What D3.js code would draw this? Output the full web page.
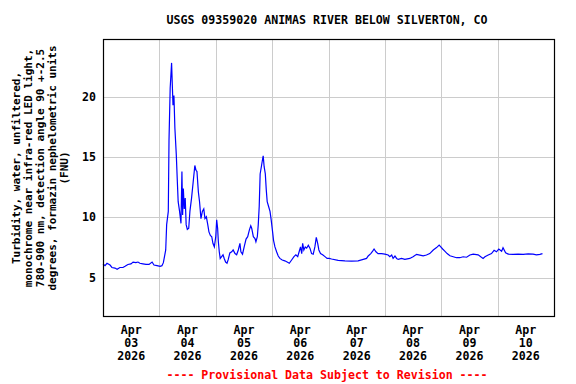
<!DOCTYPE html>
<html>
  <head>
    <meta charset="utf-8">
    <title>USGS 09359020 turbidity</title>
    <script src="https://cdn.jsdelivr.net/npm/d3@7"></script>
    <style>
      body { margin: 0; background: #fff; }
      text { font-family: "DejaVu Sans Mono", monospace; font-weight: bold; }
    </style>
  </head>
  <body>
    <script>

// hours after Apr 03 2026 00:00 and turbidity (FNU)
var hours = [0, 0.85, 1.7, 3.0, 3.8, 5.1, 6.0, 7.2, 8.5, 9.4, 10.6, 11.9, 12.8, 14.0, 14.9, 15.7,
  17.0, 18.3, 19.6, 20.9, 21.7, 23.0, 24.3, 25.1, 25.7, 26.7, 27.1, 27.8, 28.1, 28.6, 29.2, 29.5,
  29.8, 30.2, 30.6, 31.2, 31.6, 32.0, 32.6, 33.2, 33.6, 33.9, 34.2, 34.6, 35.0, 35.4, 35.9, 36.5,
  37.0, 37.7, 38.4, 39.1, 39.6, 40.0, 40.6, 41.1, 41.7, 42.3, 42.9, 43.4, 44.0, 44.6, 45.1, 45.7,
  46.3, 46.8, 47.4, 48.0, 48.4, 48.8, 49.1, 49.5, 49.9, 50.5, 51.1, 51.6, 52.2, 52.8, 53.3, 54.0,
  54.8, 55.4, 56.2, 56.9, 57.6, 58.3, 58.7, 59.4, 60.1, 60.9, 61.6, 62.3, 62.9, 63.3, 64.0, 64.7,
  65.1, 65.7, 66.1, 66.5, 66.9, 67.5, 68.0, 68.2, 68.6, 69.1, 69.5, 69.9, 70.5, 71.1, 71.6, 72.2,
  72.6, 73.2, 73.9, 74.6, 75.3, 76.3, 77.4, 78.4, 79.3, 80.3, 81.3, 82.1, 82.9, 83.5, 84.1, 84.6,
  85.0, 85.5, 86.1, 86.7, 87.4, 88.1, 88.8, 89.5, 90.2, 90.8, 91.4, 91.9, 92.6, 93.5, 94.5, 95.4,
  96.3, 97.3, 100.1, 103.0, 105.8, 108.6, 110.8, 112.2, 112.9, 114.0, 114.8, 115.4, 116.2, 117.1,
  118.6, 120.0, 121.4, 122.1, 122.9, 123.5, 124.3, 125.0, 125.7, 127.1, 128.5, 130.6, 132.0, 133.5,
  134.9, 136.3, 137.7, 139.1, 140.6, 142.0, 143.1, 143.7, 144.6, 145.5, 146.5, 147.7, 149.1, 150.5,
  151.9, 153.3, 154.8, 156.2, 157.6, 159.7, 161.1, 161.8, 162.6, 164.0, 165.4, 166.5, 167.5, 168.5,
  169.7, 170.3, 171.4, 172.5, 174.6, 176.7, 178.9, 181.0, 183.1, 184.5, 186.0, 187.1];

var fnu = [6.15, 6.0, 6.2, 6.05, 5.85, 5.8, 5.7, 5.85, 5.85, 5.95, 6.1, 6.15, 6.3, 6.25, 6.3, 6.2,
  6.15, 6.1, 6.1, 6.3, 6.05, 6.0, 5.95, 6.0, 6.25, 7.3, 9.4, 10.5, 16.4, 20.7, 22.8, 21.0,
  19.3, 20.1, 17.4, 15.2, 13.2, 11.3, 10.5, 9.5, 13.8, 10.2, 12.4, 10.7, 11.6, 9.4, 9.0, 9.1,
  10.5, 11.6, 12.95, 14.3, 13.9, 13.8, 12.1, 11.3, 9.9, 10.5, 10.7, 9.9, 10.05, 9.4, 8.8, 8.5,
  8.4, 7.85, 7.55, 8.4, 9.8, 9.1, 8.0, 7.15, 6.6, 6.75, 6.9, 6.6, 6.3, 6.2, 6.5, 7.05,
  7.15, 7.3, 7.0, 6.9, 7.3, 7.85, 7.15, 6.95, 7.55, 8.2, 8.4, 8.95, 9.3, 9.1, 8.4, 8.25,
  7.98, 8.4, 9.4, 10.9, 13.6, 14.3, 14.9, 15.1, 14.2, 13.6, 12.3, 11.3, 10.9, 10.5, 9.8, 8.8,
  8.1, 7.55, 7.15, 6.8, 6.6, 6.47, 6.4, 6.3, 6.2, 6.47, 6.75, 6.9, 6.75, 7.15, 7.55, 7.0,
  7.85, 7.3, 7.55, 7.45, 7.7, 7.45, 7.0, 6.95, 7.55, 8.35, 7.85, 7.3, 7.0, 6.9, 6.75, 6.6,
  6.6, 6.55, 6.44, 6.4, 6.38, 6.4, 6.52, 6.6, 6.8, 7.0, 7.2, 7.38, 7.15, 7.0,
  7.0, 6.96, 6.88, 6.74, 6.88, 6.6, 6.8, 6.6, 6.52, 6.6, 6.52, 6.6, 6.74, 6.94,
  6.88, 6.82, 6.88, 7.0, 7.3, 7.5, 7.7, 7.57, 7.38, 7.2, 7.0, 6.82, 6.74, 6.66,
  6.66, 6.74, 6.7, 6.88, 6.96, 6.9, 6.69, 6.6, 6.74, 6.88, 7.0, 7.27, 7.15, 7.38,
  7.2, 7.49, 7.07, 6.96, 6.94, 6.96, 6.94, 6.98, 6.96, 6.9, 6.94, 7.0];

var dayLabels = ["03", "04", "05", "06", "07", "08", "09", "10"];
var yTicks = [5, 10, 15, 20];
var yLabelLines = ["Turbidity, water, unfiltered,",
  "monochrome near infra-red LED light,",
  "780-900 nm, detection angle 90 +-2.5",
  "degrees, formazin nephelometric units",
  "(FNU)"];

var w = 576, h = 384;
// plot box edges (note: "top" is taken by window.top)
var plotL = 103, plotR = 554, plotT = 39, plotB = 316;

var start = new Date(2026, 3, 3);
var data = hours.map(function(hr, i) {
  return { t: new Date(start.getTime() + hr * 3600000), v: fnu[i] };
});

var xScale = d3.scaleTime()
  .domain([start, new Date(2026, 3, 11)])
  .range([plotL, plotR]);

var yScale = d3.scaleLinear()
  .domain([1.83, 24.78])
  .range([plotB, plotT]);

var svg = d3.select("body").append("svg")
  .attr("width", w)
  .attr("height", h);

// grid lines
var dayLines = d3.timeDay.range(new Date(2026, 3, 4), new Date(2026, 3, 11));
svg.append("g").selectAll("line")
  .data(dayLines).enter().append("line")
  .attr("x1", function(d) { return Math.round(xScale(d)) + 0.5; })
  .attr("x2", function(d) { return Math.round(xScale(d)) + 0.5; })
  .attr("y1", plotT).attr("y2", plotB)
  .attr("stroke", "#cccccc");

svg.append("g").selectAll("line")
  .data(yTicks).enter().append("line")
  .attr("x1", plotL).attr("x2", plotR)
  .attr("y1", function(d) { return Math.round(yScale(d)) + 0.5; })
  .attr("y2", function(d) { return Math.round(yScale(d)) + 0.5; })
  .attr("stroke", "#cccccc");

// data line
var line = d3.line()
  .x(function(d) { return xScale(d.t); })
  .y(function(d) { return yScale(d.v); });

svg.append("path")
  .datum(data)
  .attr("d", line)
  .attr("fill", "none")
  .attr("stroke", "#0000ff")
  .attr("stroke-width", 1.2);

// frame
svg.append("rect")
  .attr("x", plotL + 0.5).attr("y", plotT + 0.5)
  .attr("width", plotR - plotL).attr("height", plotB - plotT)
  .attr("fill", "none")
  .attr("stroke", "#000")
  .attr("stroke-width", 1.2);

// y tick labels
svg.append("g").selectAll("text")
  .data(yTicks).enter().append("text")
  .attr("x", 96)
  .attr("y", function(d) { return yScale(d) + 4; })
  .attr("text-anchor", "end")
  .attr("font-size", "11.6px")
  .text(function(d) { return d; });

// x labels at noon of each day
var xl = svg.append("g").selectAll("text")
  .data(dayLabels).enter().append("text")
  .attr("text-anchor", "middle")
  .attr("font-size", "11.6px")
  .attr("transform", function(d, i) {
    return "translate(" + xScale(d3.timeHour.offset(start, 24 * i + 12)) + ",0)";
  });
xl.append("tspan").attr("x", 0).attr("y", 334).text("Apr");
xl.append("tspan").attr("x", 0).attr("y", 347).text(function(d) { return d; });
xl.append("tspan").attr("x", 0).attr("y", 360).text("2026");

// y axis title
var yt = svg.append("text")
  .attr("transform", "translate(0,168) rotate(-90)")
  .attr("text-anchor", "middle")
  .attr("font-size", "11px");
yt.selectAll("tspan")
  .data(yLabelLines).enter().append("tspan")
  .attr("x", 0)
  .attr("y", function(d, i) { return 20 + i * 12; })
  .text(function(d) { return d; });

// title and footer
svg.append("text")
  .attr("x", 327).attr("y", 24)
  .attr("text-anchor", "middle")
  .attr("font-size", "11.6px")
  .text("USGS 09359020 ANIMAS RIVER BELOW SILVERTON, CO");

svg.append("text")
  .attr("x", 327).attr("y", 379)
  .attr("text-anchor", "middle")
  .attr("font-size", "11.6px")
  .attr("fill", "#ff0000")
  .text("---- Provisional Data Subject to Revision ----");

    </script>
  </body>
</html>
